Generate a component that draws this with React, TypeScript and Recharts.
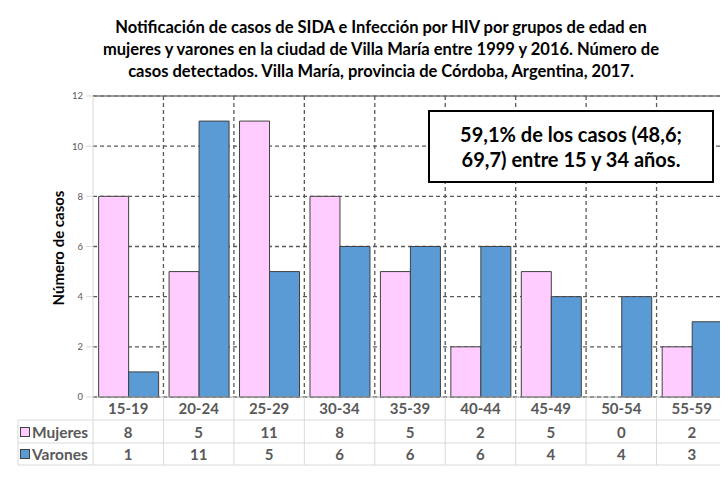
import { Bar, BarChart, CartesianGrid, ReferenceLine, XAxis, YAxis } from "recharts";

const grupos = ["15-19", "20-24", "25-29", "30-34", "35-39", "40-44", "45-49", "50-54", "55-59"];
const mujeres = [8, 5, 11, 8, 5, 2, 5, 0, 2];
const varones = [1, 11, 5, 6, 6, 6, 4, 4, 3];
const yTicks = [0, 2, 4, 6, 8, 10, 12];

const data = grupos.map((g, i) => ({ grupo: g, mujeres: mujeres[i], varones: varones[i] }));

const FONT = "Lato, 'Open Sans', sans-serif";
const GRAY = "#595959";
const LINE = "#d9d9d9";
const PINK = "#FFCCFF";
const BLUE = "#5B9BD5";

// layout de la grafica (coords del svg)
const W = 720;
const H = 471;
const TOP = 88;
const LEFT = 85;
const RIGHT = 719;
const BOTTOM = 389;
const BW = (RIGHT - LEFT) / grupos.length;
const ROW1 = 412;
const ROW2 = 435;
const ROW3 = 457;
const LEG_X = 10;

const TablaTick = (props: any) => {
  const { x, index, payload } = props;
  const last = index === grupos.length - 1;
  const txt = { fontFamily: FONT, fontWeight: 700, fontSize: 15, fill: GRAY, textAnchor: "middle" as const };
  return (
    <g>
      {index === 0 && (
        <g>
          <line x1={x - BW / 2} x2={x - BW / 2} y1={BOTTOM} y2={ROW3} stroke={LINE} />
          <line x1={LEG_X} x2={RIGHT} y1={ROW1} y2={ROW1} stroke={LINE} />
          <line x1={LEG_X} x2={RIGHT} y1={ROW2} y2={ROW2} stroke={LINE} />
          <line x1={LEG_X} x2={RIGHT} y1={ROW3} y2={ROW3} stroke={LINE} />
          <line x1={LEG_X} x2={LEG_X} y1={ROW1} y2={ROW3} stroke={LINE} />
          <rect x={LEG_X + 2.5} y={419.5} width={9} height={9} fill={PINK} stroke="#404040" />
          <rect x={LEG_X + 2.5} y={441.5} width={9} height={9} fill={BLUE} stroke="#404040" />
          <text x={LEG_X + 14} y={429.5} fontFamily={FONT} fontWeight={700} fontSize={15.5} fill={GRAY}>
            Mujeres
          </text>
          <text x={LEG_X + 14} y={451.5} fontFamily={FONT} fontWeight={700} fontSize={15.5} fill={GRAY}>
            Varones
          </text>
        </g>
      )}
      <line x1={x + BW / 2} x2={x + BW / 2} y1={BOTTOM} y2={ROW3} stroke={LINE} />
      {last ? (
        <line x1={x + BW / 2} x2={x + BW / 2} y1={TOP} y2={BOTTOM} stroke="#7f7f7f" strokeWidth={1.5} />
      ) : (
        <line x1={x + BW / 2} x2={x + BW / 2} y1={TOP} y2={BOTTOM} stroke={GRAY} strokeWidth={1.3} strokeDasharray="4 3" />
      )}
      <text x={x} y={405.5} {...txt}>{payload.value}</text>
      <text x={x} y={429.5} {...txt}>{mujeres[index]}</text>
      <text x={x} y={451.5} {...txt}>{varones[index]}</text>
    </g>
  );
};

export default function App() {
  return (
    <div style={{ position: "relative", width: W, height: H, overflow: "hidden", background: "#fff" }}>
      <div
        style={{
          position: "absolute",
          left: -1,
          top: -1,
          width: W + 20,
          height: H + 20,
          border: `1px solid ${LINE}`,
          boxSizing: "border-box",
        }}
      />
      <div
        style={{
          position: "absolute",
          top: 8,
          left: 0,
          width: W,
          paddingLeft: 26,
          boxSizing: "border-box",
          textAlign: "center",
          fontFamily: FONT,
          fontWeight: 700,
          fontSize: 16.5,
          lineHeight: "22px",
          color: "#000",
          whiteSpace: "nowrap",
        }}
      >
        Notificación de casos de SIDA e Infección por HIV por grupos de edad en
        <br />
        mujeres y varones en la ciudad de Villa María entre 1999 y 2016. Número de
        <br />
        casos detectados. Villa María, provincia de Córdoba, Argentina, 2017.
      </div>
      <BarChart
        width={W}
        height={H}
        data={data}
        margin={{ top: TOP, right: W - RIGHT, left: 0, bottom: H - BOTTOM - 70 }}
        barCategoryGap="8%"
        barGap={0}
        style={{ position: "absolute", left: 0, top: 0 }}
      >
        <CartesianGrid vertical={false} stroke={GRAY} strokeWidth={1.3} strokeDasharray="4 3" />
        <XAxis
          dataKey="grupo"
          height={70}
          axisLine={{ stroke: "#a6a6a6" }}
          tickLine={false}
          interval={0}
          tick={<TablaTick />}
        />
        <YAxis
          width={LEFT}
          domain={[0, 12]}
          ticks={yTicks}
          axisLine={{ stroke: LINE }}
          tickLine={{ stroke: LINE }}
          tickSize={7}
          tickMargin={3}
          tick={{ fontFamily: FONT, fontSize: 9.5, fill: GRAY }}
          label={{
            content: () => (
              <text
                x={56}
                y={240}
                transform="rotate(-90 56 240)"
                textAnchor="middle"
                fontFamily={FONT}
                fontWeight={700}
                fontSize={15}
                fill="#000"
              >
                Número de casos
              </text>
            ),
          }}
        />
        <ReferenceLine y={12} stroke="#7f7f7f" strokeWidth={1.5} />
        <Bar dataKey="mujeres" fill={PINK} stroke="#404040" strokeWidth={1} isAnimationActive={false} />
        <Bar dataKey="varones" fill={BLUE} stroke="#404040" strokeWidth={1} isAnimationActive={false} />
      </BarChart>
      <div
        style={{
          position: "absolute",
          left: 420,
          top: 102,
          width: 286,
          height: 73,
          border: "2px solid #000",
          boxSizing: "border-box",
          background: "#fff",
          display: "flex",
          alignItems: "center",
          justifyContent: "center",
          textAlign: "center",
          fontFamily: FONT,
          fontWeight: 700,
          fontSize: 20,
          lineHeight: "25px",
          color: "#000",
          zIndex: 2,
          whiteSpace: "nowrap",
        }}
      >
        <div>
          59,1% de los casos (48,6;
          <br />
          69,7) entre 15 y 34 años.
        </div>
      </div>
    </div>
  );
}
